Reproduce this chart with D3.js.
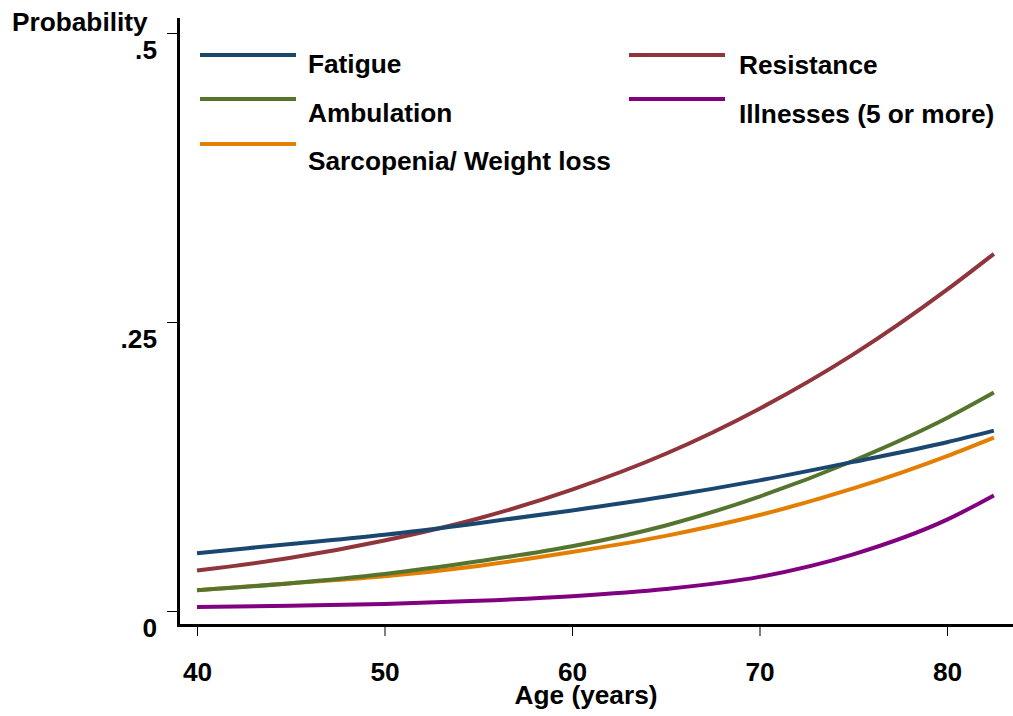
<!DOCTYPE html>
<html>
<head>
<meta charset="utf-8">
<script src="https://cdn.jsdelivr.net/npm/d3@7"></script>
<style>
  body { margin: 0; background: #fff; }
  text { font-family: "Liberation Sans", Arial, sans-serif; font-weight: bold; fill: #000; }
</style>
</head>
<body>
<div id="graphContainer"></div>
<script>

// predicted probability by age
var ages = [40, 45, 50, 55, 60, 65, 70, 75, 80, 82.5];

var fatigue     = [0.050, 0.058, 0.066, 0.076, 0.087, 0.099, 0.113, 0.129, 0.146, 0.156];
var resistance  = [0.035, 0.046, 0.061, 0.080, 0.105, 0.136, 0.175, 0.222, 0.278, 0.309];
var ambulation  = [0.018, 0.024, 0.032, 0.043, 0.056, 0.074, 0.099, 0.130, 0.167, 0.189];
var sarcopenia  = [0.018, 0.024, 0.030, 0.039, 0.051, 0.065, 0.083, 0.106, 0.134, 0.150];
var illnesses   = [0.0035, 0.0045, 0.006, 0.0088, 0.0128, 0.019, 0.0295, 0.049, 0.079, 0.100];

var seriesNames  = ['Fatigue', 'Resistance', 'Ambulation', 'Illnesses (5 or more)', 'Sarcopenia/ Weight loss'];
var seriesValues = [fatigue, resistance, ambulation, illnesses, sarcopenia];
var seriesColors = ['#1a476f', '#90353b', '#55752f', '#800080', '#e37e00'];

var xTicks = [40, 50, 60, 70, 80];
var yTicks = [0, 0.25, 0.5];

var width = 1013, height = 716;
var stretch = "scale(1.05,1)";   // stata text comes out a bit wide

var svg = d3.select("#graphContainer").append("svg")
    .attr("width", width)
    .attr("height", height);

var x = d3.scaleLinear().domain([40, 80]).range([197, 947]);
var y = d3.scaleLinear().domain([0, 0.5]).range([611, 33]);

function label(px, py, str, anchor) {
    return svg.append("text")
        .attr("transform", "translate(" + px + "," + py + ") " + stretch)
        .attr("text-anchor", anchor || "start")
        .style("font-size", "25px")
        .text(str);
}

// 
// axes
// 
var yAxis = d3.axisLeft(y)
    .tickValues(yTicks)
    .tickSize(10)
    .tickFormat(function(d) { return d === 0 ? "0" : String(d).replace(/^0/, ""); });

var gy = svg.append("g")
    .attr("transform", "translate(177,0)")
    .call(yAxis);
gy.select(".domain").remove();
gy.selectAll(".tick line").attr("stroke", "#000").attr("stroke-width", 1);
gy.selectAll(".tick text")
    .attr("x", 0).attr("dy", 0)
    .attr("transform", "translate(-20,25) " + stretch)
    .style("font-size", "25px");

var xAxis = d3.axisBottom(x)
    .tickValues(xTicks)
    .tickSize(10)
    .tickFormat(d3.format("d"));

var gx = svg.append("g")
    .attr("transform", "translate(0,626)")
    .call(xAxis);
gx.select(".domain").remove();
gx.selectAll(".tick line").attr("stroke", "#000").attr("stroke-width", 1);
gx.selectAll(".tick text")
    .attr("y", 0).attr("dy", 0)
    .attr("transform", "translate(0,55) " + stretch)
    .style("font-size", "25px");

// axis lines (stata draws them past the plot region)
svg.append("line")
    .attr("x1", 178.5).attr("x2", 178.5)
    .attr("y1", 18).attr("y2", 627)
    .attr("stroke", "#000").attr("stroke-width", 3);
svg.append("line")
    .attr("x1", 177).attr("x2", width)
    .attr("y1", 625.5).attr("y2", 625.5)
    .attr("stroke", "#000").attr("stroke-width", 3);

// titles
label(12, 31, "Probability");
label(586, 704, "Age (years)", "middle");

// 
// curves
// 
var line = d3.line()
    .x(function(d) { return x(d[0]); })
    .y(function(d) { return y(d[1]); })
    .curve(d3.curveMonotoneX);

// draw order: bottom to top as in the original
var drawOrder = [3, 4, 2, 1, 0];
drawOrder.forEach(function(i) {
    svg.append("path")
        .datum(ages.map(function(a, j) { return [a, seriesValues[i][j]]; }))
        .attr("fill", "none")
        .attr("stroke", seriesColors[i])
        .attr("stroke-width", 4)
        .attr("d", line);
});

// 
// legend, two columns
// 
var legendPos = [
    { lx: 200, ly: 55,  tx: 308, ty: 73 },
    { lx: 629, ly: 55,  tx: 739, ty: 74 },
    { lx: 200, ly: 99,  tx: 308, ty: 122 },
    { lx: 629, ly: 99,  tx: 739, ty: 123 },
    { lx: 200, ly: 144, tx: 308, ty: 170 }
];

seriesNames.forEach(function(name, i) {
    var p = legendPos[i];
    svg.append("line")
        .attr("x1", p.lx).attr("x2", p.lx + 96)
        .attr("y1", p.ly).attr("y2", p.ly)
        .attr("stroke", seriesColors[i])
        .attr("stroke-width", 4);
    label(p.tx, p.ty, name);
});

</script>
</body>
</html>
